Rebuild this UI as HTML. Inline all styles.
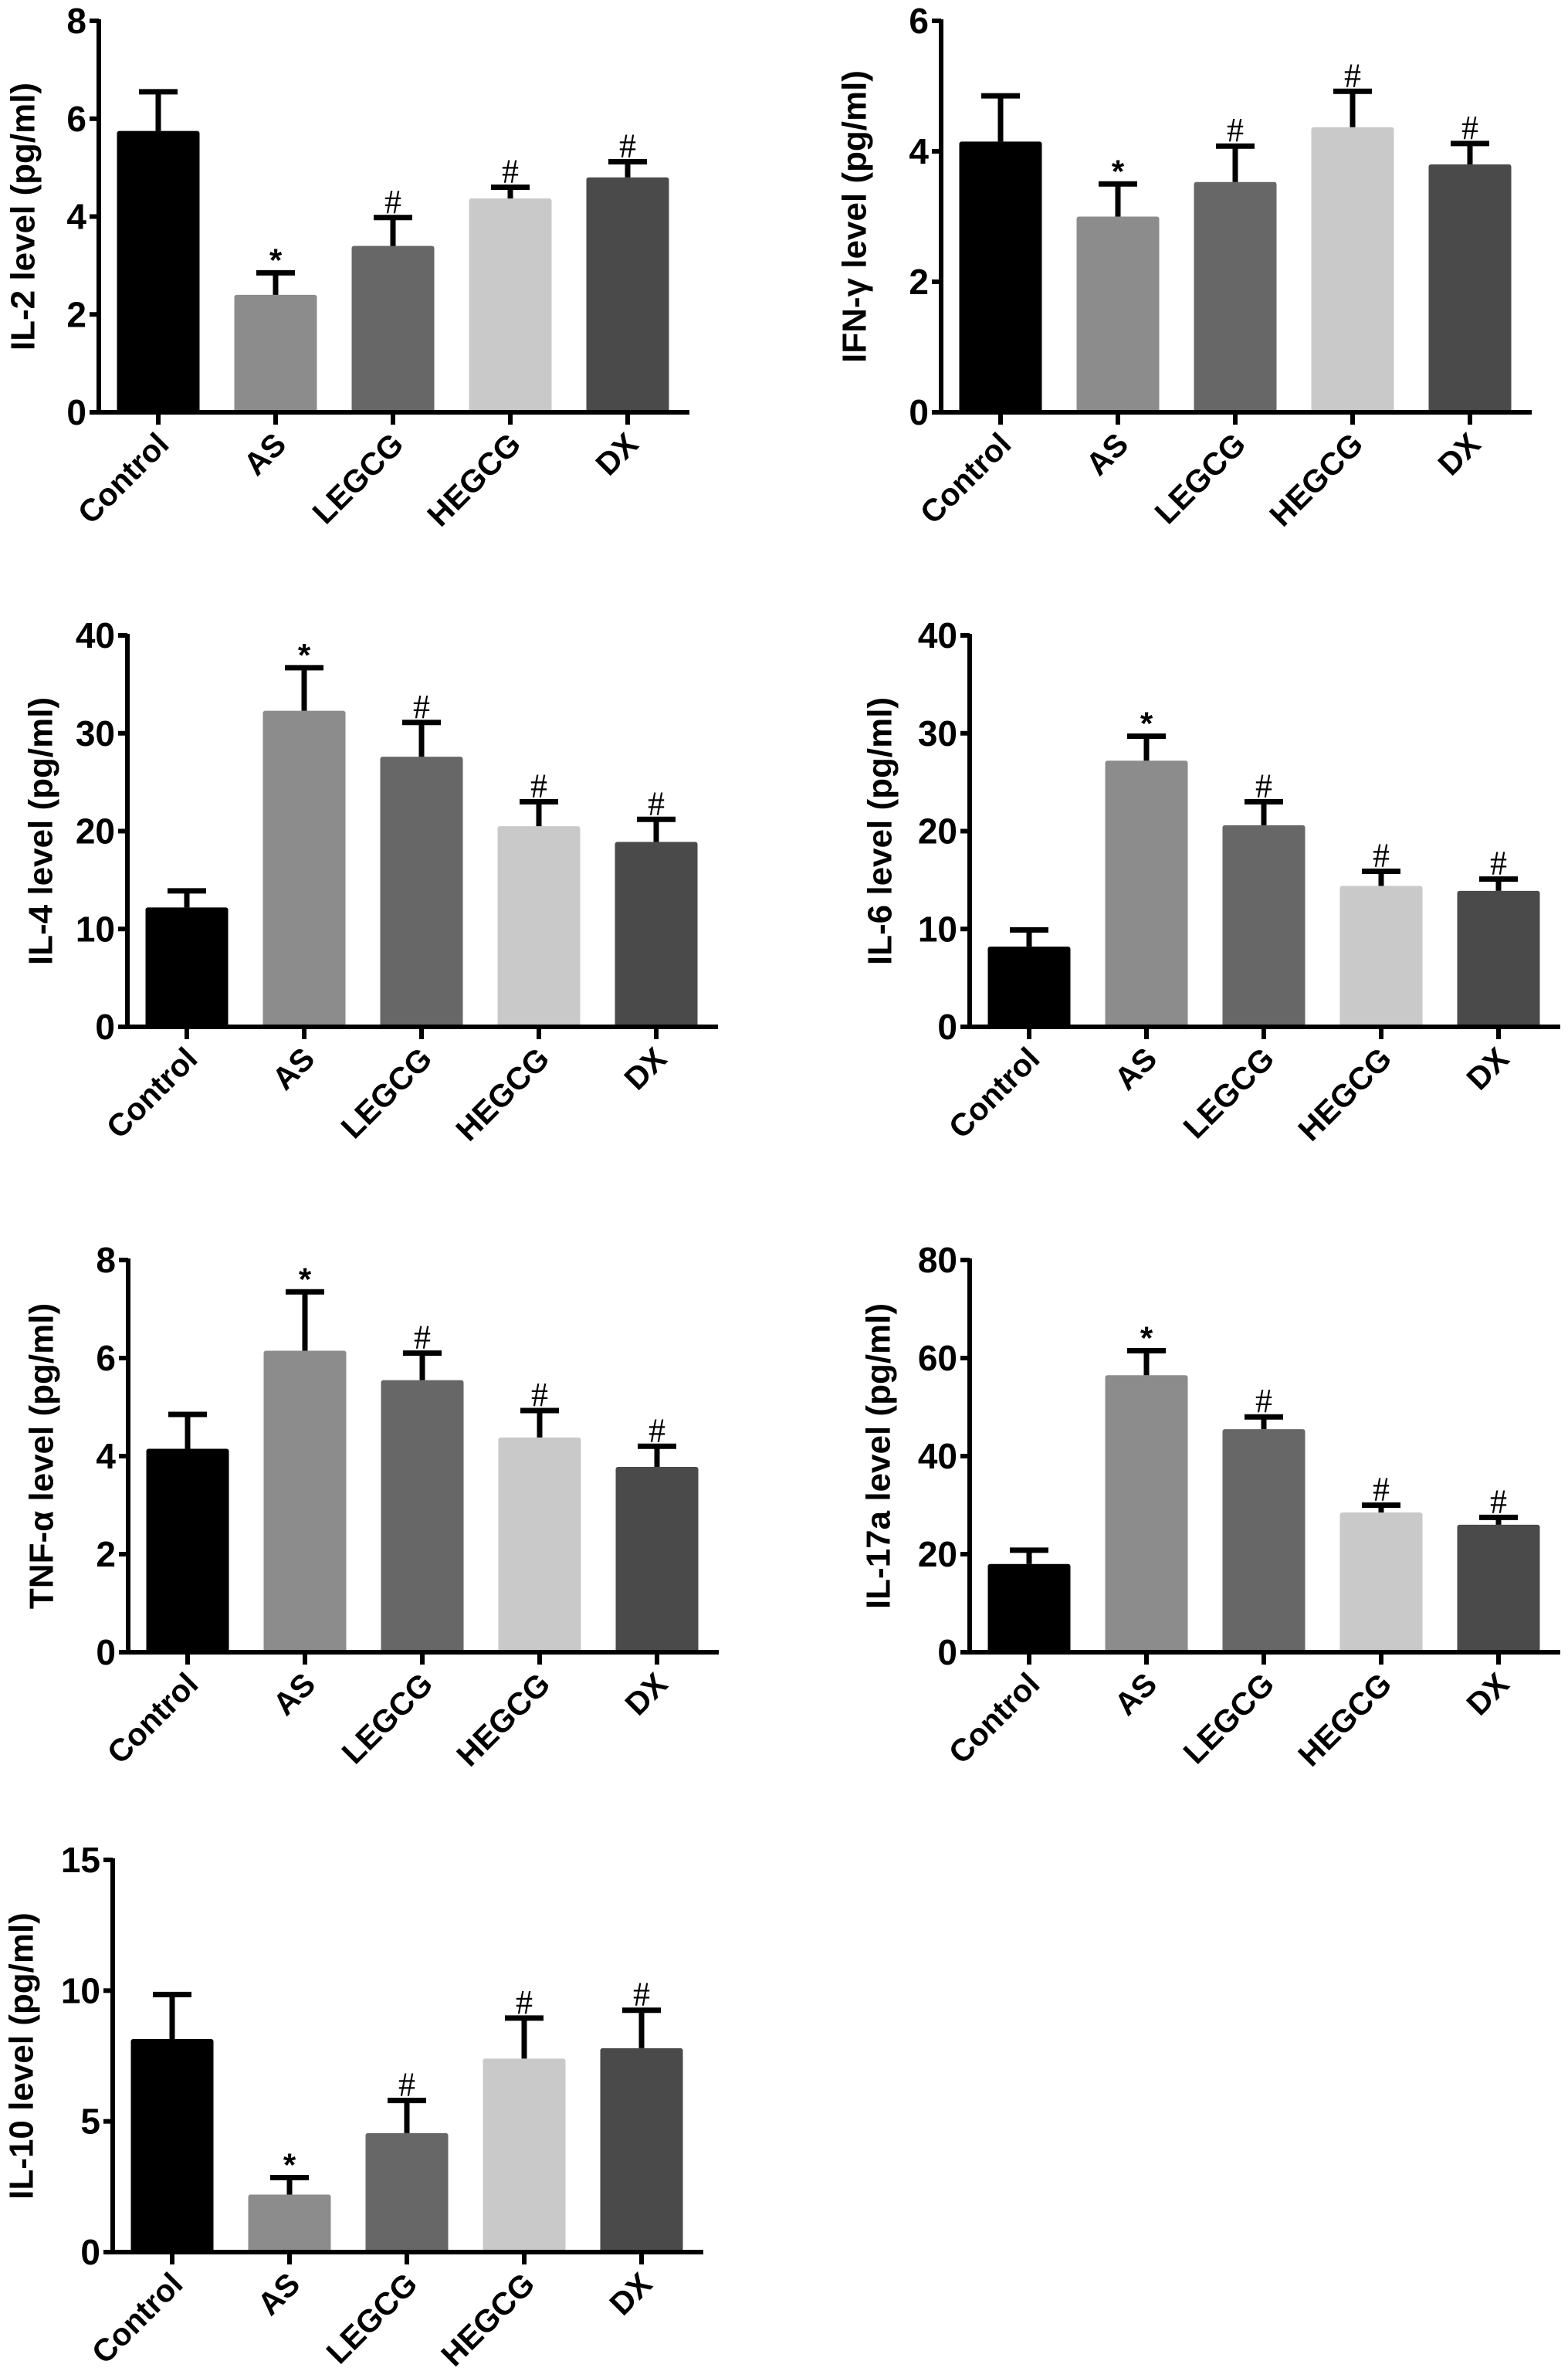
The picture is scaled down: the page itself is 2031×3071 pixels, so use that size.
<!DOCTYPE html>
<html><head><meta charset="utf-8"><style>
html,body{margin:0;padding:0;background:#fff;}
svg{display:block;font-family:"Liberation Sans",Arial,sans-serif;}
</style></head>
<body>
<svg id="fig" width="2031" height="3071" viewBox="0 0 2031 3071" xmlns="http://www.w3.org/2000/svg"></svg>
<script>
const categories = ["Control","AS","LEGCG","HEGCG","DX"];
const barColors = ["#000000","#8c8c8c","#676767","#c9c9c9","#4a4a4a"];
const marks = ["","*","#","#","#"];
const titles = ["IL-2 level (pg/ml)","IFN-\u03b3 level (pg/ml)","IL-4 level (pg/ml)","IL-6 level (pg/ml)","TNF-\u03b1 level (pg/ml)","IL-17a level (pg/ml)","IL-10 level (pg/ml)"];
const yMax = [8,6,40,40,8,80,15];
const yStep = [2,2,10,10,2,20,5];
const il2Means = [5.75,2.4,3.4,4.37,4.8];
const il2Err = [6.55,2.85,3.98,4.6,5.12];
const ifnMeans = [4.15,3.0,3.53,4.37,3.8];
const ifnErr = [4.85,3.5,4.08,4.92,4.12];
const il4Means = [12.2,32.3,27.6,20.5,18.9];
const il4Err = [13.9,36.7,31.1,23.0,21.2];
const il6Means = [8.2,27.2,20.6,14.4,13.9];
const il6Err = [9.9,29.7,23.0,15.9,15.1];
const tnfMeans = [4.15,6.15,5.55,4.38,3.78];
const tnfErr = [4.85,7.35,6.1,4.93,4.2];
const il17Means = [18.0,56.5,45.5,28.5,26.0];
const il17Err = [20.8,61.5,48.0,30.0,27.5];
const il10Means = [8.15,2.2,4.55,7.4,7.8];
const il10Err = [9.85,2.85,5.8,8.95,9.25];
const allMeans = [il2Means,ifnMeans,il4Means,il6Means,tnfMeans,il17Means,il10Means];
const allErr = [il2Err,ifnErr,il4Err,il6Err,tnfErr,il17Err,il10Err];
const panelNames = ["il2","ifn-gamma","il4","il6","tnf-alpha","il17a","il10"];

const NS="http://www.w3.org/2000/svg";
const svg=document.getElementById('fig');
function mk(tag,attrs,parent){const e=document.createElementNS(NS,tag);for(const k in attrs)e.setAttribute(k,attrs[k]);parent.appendChild(e);return e;}
const layout=[[128,27,534],[1219,27,534],[165,823,1330],[1256,823,1330],[166,1632,2140],[1256,1632,2140],[146,2409,2917]];
const titleOff=[98,112,112,116,112,118,118];

layout.forEach((L,p)=>{
  const [X0,top,zero]=L;
  const g=mk('g',{},svg);
  
  
  const y=v=>zero-(v/yMax[p])*(zero-top);
  const x=i=>X0+77+i*152;
  const bw=107;
  allMeans[p].forEach((v,i)=>{
    const b=mk('rect',{x:x(i)-bw/2,y:y(v),width:bw,height:zero-y(v),fill:barColors[i],rx:3},g);
    
    
    const e=allErr[p][i];
    const eg=mk('g',{stroke:'#000','stroke-width':7},g);
    
    
    mk('line',{x1:x(i),x2:x(i),y1:y(v),y2:y(e)},eg);
    mk('line',{x1:x(i)-25,x2:x(i)+25,y1:y(e),y2:y(e)},eg);
    if(marks[i]){
      const isStar=marks[i]==='*';
      const t=mk('text',{x:x(i),y:y(e)-(isStar?2:6),'text-anchor':'middle','font-size':isStar?42:44,'font-weight':isStar?'bold':'normal','font-family':isStar?'"Liberation Sans",sans-serif':'"Liberation Serif",serif'},g);
      t.textContent=marks[i];
      
      
    }
  });
  const ax=mk('g',{stroke:'#000','stroke-width':6,fill:'none'},g);
  
  
  mk('line',{x1:X0,x2:X0,y1:top-2,y2:zero+3},ax);
  mk('line',{x1:X0-12,x2:X0+765,y1:zero,y2:zero},ax);
  for(let v=0;v<=yMax[p]+1e-9;v+=yStep[p]){
    mk('line',{x1:X0-12,x2:X0,y1:y(v),y2:y(v)},ax);
    const t=mk('text',{x:X0-16,y:y(v)+16,'text-anchor':'end','font-size':46,'font-weight':'bold',fill:'#000',stroke:'none'},g);
    t.textContent=v;
    
    
  }
  categories.forEach((c,i)=>{
    mk('line',{x1:x(i),x2:x(i),y1:zero,y2:zero+16},ax);
    const cx=x(i)+16, cy=zero+44;
    const t=mk('text',{x:cx,y:cy,'text-anchor':'end','font-size':41,'font-weight':'bold',transform:`rotate(-45 ${cx} ${cy})`},g);
    t.textContent=c;
    
    
  });
  const tx=X0-titleOff[p], ty=(top+zero)/2;
  const tt=mk('text',{x:tx,y:ty,'text-anchor':'middle','font-size':44,'font-weight':'bold',transform:`rotate(-90 ${tx} ${ty})`,'dominant-baseline':'central'},g);
  tt.textContent=titles[p];
  
  
});
</script>
</body></html>
